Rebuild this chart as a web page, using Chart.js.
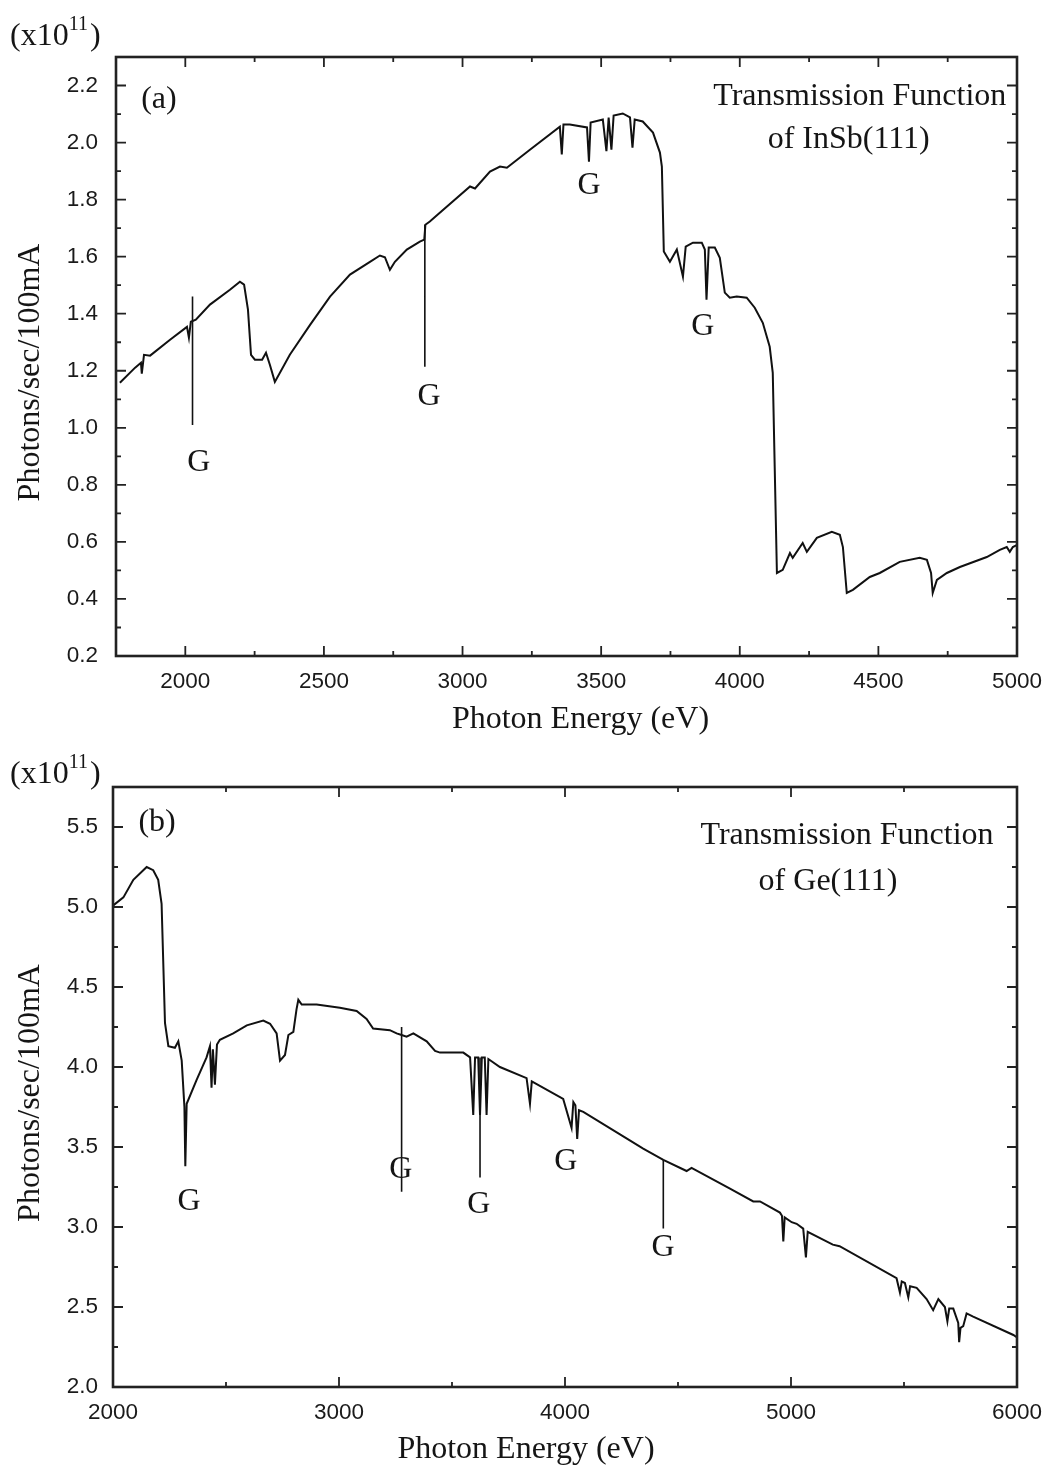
<!DOCTYPE html>
<html>
<head>
<meta charset="utf-8">
<script src="https://cdn.jsdelivr.net/npm/chart.js@4.4.0/dist/chart.umd.min.js"></script>
<style>
  body { margin: 0; background: #fff; }
  .box { position: absolute; left: 0; }
</style>
</head>
<body>
<div class="box" style="top:0"><canvas id="chartA" width="1057" height="745"></canvas></div>
<div class="box" style="top:745px"><canvas id="chartB" width="1057" height="725"></canvas></div>
<script>
// ---- (a) InSb(111) ----
var energyA = [1764,1819,1840,1843,1851,1873,1945,2006,2013,2020,2038,2089,2161,2197,2212,2226,2237,2251,2277,2291,2305,2323,2377,2450,2522,2594,2666,2702,2720,2738,2756,2799,2846,2862,2866,2882,2918,3027,3045,3099,3135,3160,3243,3351,3358,3364,3387,3449,3456,3462,3506,3519,3527,3537,3545,3578,3604,3613,3621,3650,3687,3712,3719,3726,3748,3773,3795,3805,3831,3863,3874,3880,3888,3910,3928,3946,3964,3989,4025,4054,4083,4108,4119,4126,4134,4155,4181,4191,4227,4242,4278,4332,4361,4372,4386,4408,4469,4505,4577,4649,4675,4690,4696,4711,4747,4794,4891,4938,4963,4974,4985,4999];
var fluxA = [1.158,1.211,1.228,1.19,1.256,1.253,1.309,1.354,1.316,1.372,1.379,1.432,1.484,1.512,1.502,1.414,1.256,1.239,1.239,1.263,1.221,1.161,1.256,1.361,1.46,1.537,1.582,1.604,1.598,1.554,1.582,1.625,1.653,1.66,1.712,1.723,1.754,1.846,1.839,1.898,1.916,1.912,1.975,2.056,1.958,2.063,2.063,2.053,1.933,2.07,2.081,1.97,2.088,1.975,2.095,2.102,2.088,1.982,2.081,2.074,2.035,1.965,1.916,1.618,1.582,1.625,1.53,1.635,1.649,1.649,1.625,1.449,1.632,1.632,1.596,1.474,1.456,1.46,1.456,1.421,1.368,1.284,1.193,0.863,0.491,0.502,0.561,0.544,0.596,0.565,0.614,0.635,0.625,0.582,0.421,0.432,0.477,0.491,0.53,0.544,0.537,0.491,0.421,0.467,0.491,0.512,0.547,0.572,0.582,0.565,0.582,0.589];
var xTicksA = [2000,2500,3000,3500,4000,4500,5000];
var yTicksA = [0.2,0.4,0.6,0.8,1.0,1.2,1.4,1.6,1.8,2.0,2.2];
var gLineAx = [2026,2864];
var gLineAtop = [1.46,1.712];
var gLineAbot = [1.01,1.214];
var gLabelAx = [2049,2879,3456,3867];
var gLabelAy = [0.877,1.109,1.849,1.354];

// ---- (b) Ge(111) ----
var energyB = [2001,2046,2090,2134,2149,2178,2200,2215,2230,2245,2274,2289,2304,2316,2320,2326,2370,2414,2429,2436,2442,2451,2460,2473,2532,2592,2665,2695,2724,2739,2761,2776,2798,2812,2820,2835,2901,3004,3078,3122,3151,3225,3255,3277,3299,3329,3388,3425,3447,3550,3580,3594,3602,3616,3624,3632,3645,3653,3661,3712,3830,3845,3853,3992,4029,4037,4046,4054,4062,4081,4265,4346,4435,4538,4560,4730,4833,4863,4951,4960,4966,4972,5003,5025,5054,5066,5074,5185,5215,5467,5482,5490,5504,5519,5527,5556,5600,5629,5652,5681,5692,5700,5718,5740,5744,5750,5762,5777,5806,5984,6000];
var fluxB = [5.01,5.06,5.17,5.23,5.25,5.23,5.17,5.02,4.275,4.13,4.12,4.16,4.04,3.75,3.38,3.77,3.92,4.06,4.13,3.87,4.11,3.89,4.14,4.17,4.21,4.26,4.29,4.27,4.21,4.04,4.075,4.2,4.22,4.36,4.42,4.39,4.39,4.37,4.35,4.30,4.24,4.23,4.21,4.2,4.19,4.21,4.16,4.10,4.09,4.09,4.06,3.70,4.06,4.06,3.70,4.06,4.06,3.70,4.05,4.0,3.93,3.77,3.91,3.80,3.62,3.78,3.76,3.55,3.73,3.72,3.56,3.49,3.42,3.35,3.37,3.24,3.16,3.16,3.09,3.07,2.91,3.06,3.03,3.02,2.99,2.81,2.97,2.89,2.88,2.68,2.59,2.66,2.65,2.56,2.63,2.62,2.55,2.48,2.55,2.50,2.41,2.49,2.49,2.40,2.28,2.37,2.38,2.46,2.44,2.325,2.31];
var xTicksB = [2000,3000,4000,5000,6000];
var yTicksB = [2.0,2.5,3.0,3.5,4.0,4.5,5.0,5.5];
var gLineBx = [3277,3624,4435];
var gLineBtop = [4.25,4.06,3.42];
var gLineBbot = [3.22,3.31,2.99];
var gLabelBx = [2336,3274,3619,4004,4434];
var gLabelBy = [3.16,3.356,3.138,3.406,2.869];

var SERIF = '"Liberation Serif", "Times New Roman", serif';
var SANS = '"Liberation Sans", Arial, sans-serif';

function midpoints(arr) {
    var out = [];
    for (var i = 0; i < arr.length - 1; i++) out.push((arr[i] + arr[i + 1]) / 2);
    return out;
}

// frame, inward ticks, axis titles and text notes
var framePlugin = {
    id: 'frame',
    afterDraw: function(chart, args, opts) {
        var ctx = chart.ctx, a = chart.chartArea;
        var x = chart.scales.x, y = chart.scales.y;
        ctx.save();
        ctx.strokeStyle = '#222';
        ctx.lineWidth = 1.8;
        function tickX(v, len) {
            var px = x.getPixelForValue(v);
            if (px < a.left + 2 || px > a.right - 2) return;
            ctx.beginPath();
            ctx.moveTo(px, a.bottom); ctx.lineTo(px, a.bottom - len);
            ctx.moveTo(px, a.top); ctx.lineTo(px, a.top + len);
            ctx.stroke();
        }
        function tickY(v, len) {
            var py = y.getPixelForValue(v);
            if (py < a.top + 2 || py > a.bottom - 2) return;
            ctx.beginPath();
            ctx.moveTo(a.left, py); ctx.lineTo(a.left + len, py);
            ctx.moveTo(a.right, py); ctx.lineTo(a.right - len, py);
            ctx.stroke();
        }
        opts.xMajor.forEach(function(v) { tickX(v, 10); });
        midpoints(opts.xMajor).concat(opts.xExtra).forEach(function(v) { tickX(v, 5); });
        opts.yMajor.forEach(function(v) { tickY(v, 10); });
        midpoints(opts.yMajor).concat(opts.yExtra).forEach(function(v) { tickY(v, 5); });
        ctx.lineWidth = 2.6;
        ctx.strokeRect(a.left, a.top, a.right - a.left, a.bottom - a.top);

        // text notes
        ctx.fillStyle = '#151515';
        ctx.textAlign = 'center';
        ctx.textBaseline = 'middle';
        ctx.font = '32px ' + SERIF;
        opts.notes.forEach(function(n) {
            ctx.fillText(n.text, x.getPixelForValue(n.x), y.getPixelForValue(n.y));
        });

        // x title
        ctx.fillText('Photon Energy (eV)', (a.left + a.right) / 2 + opts.xTitleShift, a.bottom + opts.xTitleGap);

        // y title, rotated
        ctx.save();
        ctx.translate(31, (a.top + a.bottom) / 2 + opts.yTitleShift);
        ctx.rotate(-Math.PI / 2);
        ctx.fillText('Photons/sec/100mA', 0, 0);
        ctx.restore();

        // multiplier (x10^11)
        ctx.textAlign = 'left';
        ctx.textBaseline = 'alphabetic';
        var bx = 10, by = opts.multY;
        ctx.font = '32px ' + SERIF;
        ctx.fillText('(x10', bx, by);
        bx += ctx.measureText('(x10').width;
        ctx.font = '20px ' + SERIF;
        ctx.fillText('11', bx, by - 15);
        bx += ctx.measureText('11').width + 2;
        ctx.font = '32px ' + SERIF;
        ctx.fillText(')', bx, by);
        ctx.restore();
    }
};

function makeChart(id, o) {
    var curve = o.energy.map(function(e, i) { return {x: e, y: o.flux[i]}; });
    var lines = [];
    o.lineX.forEach(function(e, i) {
        lines.push({x: e, y: o.lineTop[i]}, {x: e, y: o.lineBot[i]}, {x: e, y: null});
    });
    var notes = o.gx.map(function(e, i) { return {text: 'G', x: e, y: o.gy[i]}; }).concat(o.extraNotes);

    return new Chart(document.getElementById(id).getContext('2d'), {
        type: 'line',
        data: {
            datasets: [{
                data: curve,
                borderColor: '#111',
                borderWidth: 2,
                pointRadius: 0,
                tension: 0
            }, {
                data: lines,
                borderColor: '#111',
                borderWidth: 1.6,
                pointRadius: 0,
                spanGaps: false
            }]
        },
        options: {
            responsive: false,
            animation: false,
            devicePixelRatio: 1,
            layout: { padding: { left: 0, right: 40, top: o.top, bottom: 0 } },
            plugins: {
                legend: { display: false },
                tooltip: { enabled: false },
                frame: {
                    xMajor: o.xTicks, yMajor: o.yTicks,
                    xExtra: o.xExtra, yExtra: o.yExtra,
                    notes: notes, multY: o.multY,
                    yTitleShift: o.yTitleShift, xTitleShift: o.xTitleShift, xTitleGap: o.xTitleGap
                }
            },
            scales: {
                x: {
                    type: 'linear',
                    min: o.xMin, max: o.xMax,
                    grid: { display: false, drawTicks: false },
                    border: { display: false },
                    afterBuildTicks: function(s) { s.ticks = o.xTicks.map(function(v) { return {value: v}; }); },
                    afterFit: function(s) { s.height = o.xHeight; },
                    ticks: {
                        padding: o.xPad,
                        color: '#1a1a1a',
                        font: { family: SANS, size: 22.5 },
                        maxRotation: 0,
                        callback: function(v) { return String(v); }
                    }
                },
                y: {
                    min: o.yMin, max: o.yMax,
                    grid: { display: false, drawTicks: false },
                    border: { display: false },
                    afterBuildTicks: function(s) { s.ticks = o.yTicks.map(function(v) { return {value: v}; }); },
                    afterFit: function(s) { s.width = o.yWidth; },
                    ticks: {
                        padding: o.yPad,
                        color: '#1a1a1a',
                        font: { family: SANS, size: 22.5 },
                        callback: function(v) { return v.toFixed(1); }
                    }
                }
            }
        },
        plugins: [framePlugin]
    });
}

makeChart('chartA', {
    energy: energyA, flux: fluxA,
    lineX: gLineAx, lineTop: gLineAtop, lineBot: gLineAbot,
    gx: gLabelAx, gy: gLabelAy,
    extraNotes: [
        {text: '(a)', x: 1905, y: 2.151},
        {text: 'Transmission Function', x: 4433, y: 2.161},
        {text: 'of InSb(111)', x: 4393, y: 2.011}
    ],
    xTicks: xTicksA, yTicks: yTicksA, xExtra: [], yExtra: [],
    xMin: 1750, xMax: 5000, yMin: 0.2, yMax: 2.3,
    top: 57, xHeight: 89, yWidth: 116, xPad: 12, yPad: 18,
    multY: 45, yTitleShift: 16, xTitleShift: 14, xTitleGap: 64
});

makeChart('chartB', {
    energy: energyB, flux: fluxB,
    lineX: gLineBx, lineTop: gLineBtop, lineBot: gLineBbot,
    gx: gLabelBx, gy: gLabelBy,
    extraNotes: [
        {text: '(b)', x: 2195, y: 5.525},
        {text: 'Transmission Function', x: 5248, y: 5.444},
        {text: 'of Ge(111)', x: 5164, y: 5.156}
    ],
    xTicks: xTicksB, yTicks: yTicksB, xExtra: [], yExtra: [5.75],
    xMin: 2000, xMax: 6000, yMin: 2.0, yMax: 5.75,
    top: 42, xHeight: 83, yWidth: 113, xPad: 12, yPad: 15,
    multY: 38, yTitleShift: 6, xTitleShift: -39, xTitleGap: 63
});
</script>
</body>
</html>
